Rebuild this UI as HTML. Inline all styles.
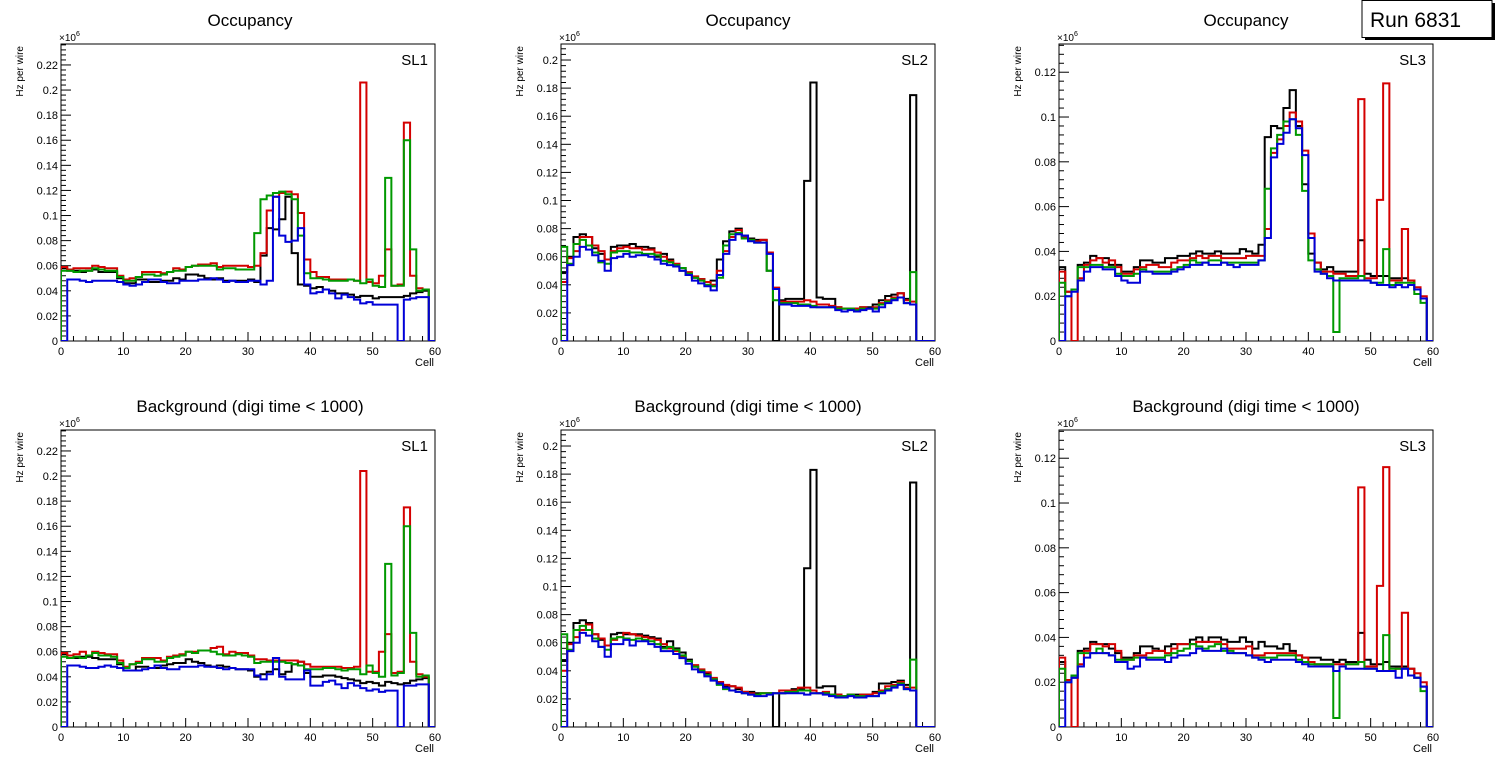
<!DOCTYPE html>
<html><head><meta charset="utf-8"><style>
html,body{margin:0;padding:0;background:#fff;}
svg{display:block;font-family:"Liberation Sans",Arial,sans-serif;}
</style></head><body>
<svg id="c" width="1496" height="772" viewBox="0 0 1496 772"></svg>
<script>
// Cells 0..59, values in units of 1e3 Hz (axis shown x10^6, i.e. value/1000)
const cells = Array.from({length:60},(_,i)=>i);
const xTicks = [0,10,20,30,40,50,60];
const seriesNames = ['black','red','green','blue'];
const panelTitles = ['Occupancy','Occupancy','Occupancy','Background (digi time < 1000)','Background (digi time < 1000)','Background (digi time < 1000)'];
const slLabels = ['SL1','SL2','SL3','SL1','SL2','SL3'];
const yMax = [0.2367,0.2114,0.1326];
const yTicksSL1 = [0,0.02,0.04,0.06,0.08,0.1,0.12,0.14,0.16,0.18,0.2,0.22];
const yTicksSL2 = [0,0.02,0.04,0.06,0.08,0.1,0.12,0.14,0.16,0.18,0.2];
const yTicksSL3 = [0,0.02,0.04,0.06,0.08,0.1,0.12];

// Top SL1
const occ1Black=[58,56,56,55,56,57,55,55,55,50, 46,46,49,49,47,47,48,48,50,49, 53,53,52,50,49,50,48,48,48,48, 49,47,68,90,89,97,115,70,45,44, 42,43,41,40,38,38,37,35,36,36, 34,35,35,35,35,36,38,39,40,0];
const occ1Red=[59,57,58,58,58,60,59,58,58,52, 49,50,51,55,55,55,54,55,58,57, 59,60,61,61,62,59,60,60,60,60, 59,60,70,104,115,118,119,117,102,65, 55,51,51,49,49,49,49,48,206,47, 46,52,73,44,45,174,52,42,41,0];
const occ1Green=[56,56,55,56,56,58,57,56,56,51, 48,48,51,53,53,52,53,55,56,56, 59,60,60,60,60,57,58,58,57,57, 57,86,113,116,118,119,117,113,84,54, 50,50,49,48,48,48,49,48,46,49, 44,43,130,44,44,160,73,40,41,0];
const occ1Blue=[0,49,49,48,47,48,48,48,48,47, 45,44,45,47,49,49,47,46,46,48, 48,48,49,49,50,49,47,48,47,47, 48,48,45,48,115,84,79,80,90,45, 38,39,41,38,34,37,35,33,30,31, 29,29,29,29,0,33,34,35,35,0];
// Top SL2
const occ2Black=[49,60,74,76,74,66,62,58,67,68, 68,69,67,67,66,60,62,58,54,50, 47,45,44,42,43,58,71,78,80,75, 73,72,72,50,0,29,30,30,30,114, 184,31,30,30,24,23,23,23,24,24, 26,29,32,33,34,30,175,0,0,0];
const occ2Red=[42,59,64,74,74,68,64,58,64,66, 67,66,66,65,65,63,60,57,55,52, 49,46,44,42,40,50,64,74,79,74, 72,71,72,63,38,28,28,28,28,29, 28,26,26,25,24,23,23,23,24,23, 24,27,29,31,34,29,28,0,0,0];
const occ2Green=[67,55,69,72,68,63,56,55,63,64, 64,63,63,62,62,61,57,56,54,52, 48,45,43,40,39,45,68,76,77,73, 72,70,70,50,29,27,27,27,26,26, 25,24,24,24,23,23,23,22,23,23, 23,26,28,30,31,27,49,0,0,0];
const occ2Blue=[0,54,60,67,65,61,57,50,59,60, 62,60,61,61,60,58,55,54,53,50, 47,43,41,39,36,47,62,72,76,75, 71,70,70,62,37,26,26,25,25,25, 24,24,24,24,22,21,22,21,22,23, 21,24,27,29,31,27,26,0,0,0];
// Top SL3
const occ3Black=[33,22,23,34,35,38,37,37,34,34, 31,31,33,36,36,35,35,37,37,38, 38,39,40,39,39,40,39,39,39,41, 40,39,43,91,96,95,104,112,96,70, 39,35,32,33,31,31,31,31,45,30, 29,29,29,28,28,28,27,23,19,0];
const occ3Red=[31,22,0,28,34,36,37,35,36,33, 30,30,32,33,34,34,33,33,35,36, 36,37,38,37,38,38,37,37,37,37, 38,38,38,50,84,90,96,102,98,85, 48,35,31,31,30,30,29,29,108,28, 28,63,115,27,27,50,27,24,20,0];
const occ3Green=[26,20,23,33,33,34,34,33,33,30, 29,29,30,32,31,31,31,31,32,33, 34,36,35,35,36,36,35,35,35,35, 35,35,36,68,86,92,98,99,92,67, 36,32,30,29,4,28,28,28,29,27, 26,26,41,25,26,26,26,21,17,0];
const occ3Blue=[0,20,22,27,31,33,33,32,32,29, 27,26,26,31,31,30,30,30,31,32, 33,34,34,35,34,34,35,34,33,34, 34,34,36,46,82,88,93,99,95,83, 46,31,30,28,27,27,27,27,27,27, 26,25,25,24,25,24,25,23,19,0];
// Bottom SL1
const bkg1Black=[58,55,55,56,56,55,54,54,54,50, 45,45,48,48,47,47,49,50,51,51, 54,52,51,49,48,49,48,47,46,46, 45,40,42,44,46,42,44,50,52,43, 40,40,41,41,40,39,38,37,35,36, 35,33,36,35,34,35,37,38,39,0];
const bkg1Red=[59,57,58,60,57,60,59,58,58,53, 48,50,52,55,55,55,53,56,57,58, 60,60,61,61,63,64,58,60,59,59, 57,54,54,53,53,53,53,53,52,50, 48,48,48,48,48,47,47,48,204,44, 44,60,74,43,44,175,52,42,40,0];
const bkg1Green=[56,55,56,55,57,59,57,57,56,51, 47,50,51,54,54,52,52,55,56,57, 60,59,61,61,60,58,57,57,58,57, 56,51,52,52,52,52,51,50,49,46, 46,46,47,47,46,45,46,46,42,49, 43,40,130,41,43,160,75,40,41,0];
const bkg1Blue=[0,49,49,48,47,47,48,49,48,47, 45,45,45,46,47,49,47,46,46,48, 48,48,49,48,48,47,46,47,46,46, 46,41,38,42,55,40,38,38,38,45, 33,33,36,37,34,31,35,33,31,29, 30,28,29,29,0,33,33,34,34,0];
// Bottom SL2
const bkg2Black=[47,60,74,76,74,66,62,58,66,67, 66,66,66,65,64,63,57,61,56,53, 48,43,40,38,34,31,29,29,27,25, 25,24,24,24,0,24,25,27,27,113, 183,28,29,29,23,22,23,23,23,23, 25,31,31,32,33,30,174,0,0,0];
const bkg2Red=[40,59,64,69,73,66,63,58,62,64, 67,66,65,64,63,62,59,56,54,50, 47,44,41,39,35,32,30,29,28,25, 24,23,24,24,24,26,26,26,28,28, 26,24,25,23,23,22,23,22,23,23, 24,26,29,30,32,28,28,0,0,0];
const bkg2Green=[66,55,69,72,69,63,57,55,63,64, 63,62,63,62,61,59,56,57,55,51, 47,43,40,37,34,30,27,26,25,24, 23,23,24,24,24,24,25,25,26,26, 24,24,24,23,22,22,23,22,22,22, 22,25,27,29,31,27,48,0,0,0];
const bkg2Blue=[0,54,60,67,65,61,57,50,59,59, 62,58,61,61,59,57,54,54,52,49, 45,41,39,36,33,31,28,26,25,24, 23,22,22,23,24,24,24,24,24,23, 24,24,23,22,21,21,22,21,21,22, 22,24,26,28,30,27,26,0,0,0];
// Bottom SL3
const bkg3Black=[29,21,22,34,35,38,37,37,35,33, 31,31,33,36,36,35,34,36,37,37, 37,39,40,38,40,40,39,38,38,40, 38,35,38,36,36,35,37,34,32,31, 31,31,30,30,29,30,29,29,42,30, 28,28,29,27,27,27,26,22,18,0];
const bkg3Red=[31,21,0,28,34,37,37,36,37,34, 30,30,32,32,33,34,34,33,35,37, 37,37,38,38,38,38,37,35,35,35, 36,32,32,33,33,33,33,33,32,31, 29,28,28,28,28,28,28,28,107,27, 27,63,116,25,26,51,26,24,20,0];
const bkg3Green=[26,20,23,33,33,33,35,33,32,30, 30,30,31,31,31,31,31,32,33,34, 35,37,36,35,36,37,34,34,33,33, 32,31,31,31,31,32,32,32,30,29, 28,28,28,28,4,27,28,28,29,26, 26,25,41,26,26,26,23,22,16,0];
const bkg3Blue=[0,20,22,27,31,33,33,33,32,29, 29,26,27,31,30,30,30,29,31,32, 32,33,35,34,34,34,35,33,33,33, 32,31,30,29,30,30,30,30,29,28, 27,27,27,27,25,27,26,26,26,26, 26,25,25,25,22,26,23,22,18,0];

const panelData = [
 [occ1Black,occ1Red,occ1Green,occ1Blue],[occ2Black,occ2Red,occ2Green,occ2Blue],[occ3Black,occ3Red,occ3Green,occ3Blue],
 [bkg1Black,bkg1Red,bkg1Green,bkg1Blue],[bkg2Black,bkg2Red,bkg2Green,bkg2Blue],[bkg3Black,bkg3Red,bkg3Green,bkg3Blue]];

const NS='http://www.w3.org/2000/svg';
const svg=document.getElementById('c');
const colors={black:'#000',red:'#d40000',green:'#009900',blue:'#0000d8'};
function mk(tag,attrs,parent){const e=document.createElementNS(NS,tag);for(const k in attrs)e.setAttribute(k,attrs[k]);(parent||svg).appendChild(e);return e;}

const frameL=[61,561,1059], frameR=[435,935,1433];
const frameT=[44,430], frameB=[341,727];
const yTickSets=[yTicksSL1,yTicksSL2,yTicksSL3];
const minorStep=[0.004,0.004,0.004];

for(let p=0;p<6;p++){
  const col=p%3,row=Math.floor(p/3);
  const L=frameL[col],R=frameR[col],T=frameT[row],B=frameB[row];
  const g=mk('g',{});
  
  
  const xs=v=>L+(v/60)*(R-L);
  const ys=v=>B-(v/yMax[col])*(B-T);
  // frame
  const fr=mk('rect',{x:L,y:T,width:R-L,height:B-T,fill:'none',stroke:'#000','stroke-width':1},g);
  
  // title
  const cx=(L+R)/2+(col===0?2:0);
  const t=mk('text',{x:cx,y:T-18,'text-anchor':'middle','font-size':17},g);t.textContent=panelTitles[p];
  
  const sl=mk('text',{x:R-7,y:T+21,'text-anchor':'end','font-size':15},g);sl.textContent=slLabels[p];
  
  // y ticks
  const ax=mk('g',{},g);
  for(let v=0;v<=yMax[col]+1e-9;v+=minorStep[col]){
    const y=ys(v);
    const major=Math.abs(Math.round(v/0.02)*0.02-v)<1e-6;
    mk('line',{x1:L,x2:L+(major?10:5),y1:y,y2:y,stroke:'#000','stroke-width':1},ax);
  }
  yTickSets[col].forEach(v=>{
    const tl=mk('text',{x:L-3,y:ys(v)+4,'text-anchor':'end','font-size':11},ax);
    tl.textContent=(v===0?'0':String(+v.toFixed(2)));
    
  });
  const ex=mk('text',{x:L-2,y:T-3,'font-size':10},ax);ex.innerHTML='×10<tspan dy="-5" font-size="7">6</tspan>';
  
  const yt=mk('text',{x:0,y:0,'text-anchor':'end','font-size':10,transform:`translate(${L-38},${T+2}) rotate(-90)`},ax);
  yt.textContent='Hz per wire';
  
  // x ticks
  const xa=mk('g',{},g);
  for(let v=0;v<=60;v+=2){
    const major=v%10===0;
    mk('line',{x1:xs(v),x2:xs(v),y1:B,y2:B-(major?9:5),stroke:'#000','stroke-width':1},xa);
  }
  xTicks.forEach(v=>{
    const tl=mk('text',{x:xs(v),y:B+14,'text-anchor':'middle','font-size':11},xa);tl.textContent=v;
    
  });
  const xt=mk('text',{x:R-1,y:B+25,'text-anchor':'end','font-size':11},xa);xt.textContent='Cell';
  
  // series
  const clipId='clip'+p;
  const cp=mk('clipPath',{id:clipId},g);mk('rect',{x:L,y:T,width:R-L,height:B-T},cp);
  panelData[p].forEach((arr,si)=>{
    let d=`M${xs(0)},${ys(0)}`;
    cells.forEach(i=>{d+=` L${xs(i)},${ys(arr[i]/1000)} L${xs(i+1)},${ys(arr[i]/1000)}`;});
    const path=mk('path',{d:d,fill:'none',stroke:colors[seriesNames[si]],'stroke-width':2,'clip-path':`url(#${clipId})`},g);
    
    
  });
}
// Run box
const rb=mk('g',{});
mk('rect',{x:1365,y:3,width:130,height:37,fill:'#000'},rb);
mk('rect',{x:1362,y:0.5,width:130,height:37,fill:'#fff',stroke:'#000','stroke-width':1},rb);
const rt=mk('text',{x:1370,y:27,'font-size':21},rb);rt.textContent='Run 6831';

</script>
</body></html>
